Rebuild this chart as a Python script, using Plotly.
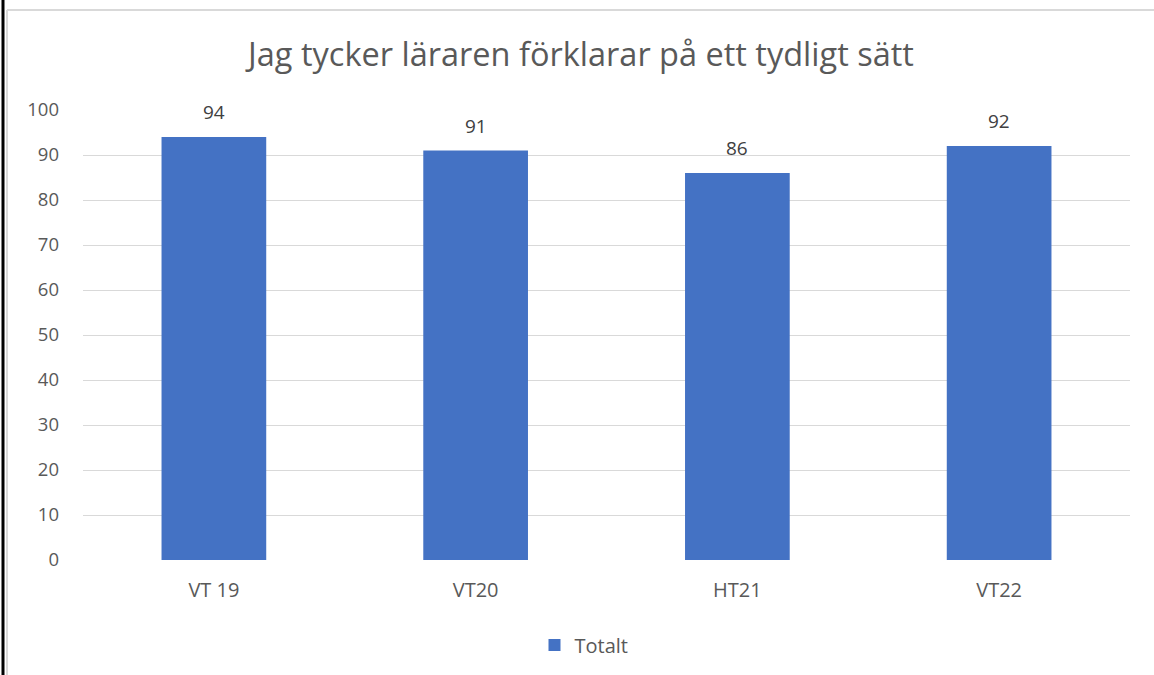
import plotly.graph_objects as go

categories = ["VT 19", "VT20", "HT21", "VT22"]
values = [94, 91, 86, 92]
series_name = "Totalt"
title_text = "Jag tycker läraren förklarar på ett tydligt sätt"
y_ticks = [0, 10, 20, 30, 40, 50, 60, 70, 80, 90, 100]

W, H = 1154, 675
L, R, T, B = 83, 24, 110, 115
pw, ph = W - L - R, H - T - B

def px(x):
    return (x - L) / pw

def py(y):
    return (H - B - y) / ph

font = "Open Sans"

fig = go.Figure()
fig.add_trace(go.Bar(
    x=categories, y=values, name=series_name,
    marker=dict(color="#4472C4", line=dict(width=0)),
    showlegend=True,
))

for c, v in zip(categories, values):
    fig.add_annotation(x=c, y=v, text=str(v), showarrow=False,
                       yanchor="middle", yshift=25,
                       font=dict(family=font, size=19, color="#404040"))

fig.update_layout(
    width=W, height=H,
    margin=dict(l=L, r=R, t=T, b=B, autoexpand=False),
    paper_bgcolor="white", plot_bgcolor="white",
    bargap=0.6,
    title=dict(text=title_text, x=581 / W, xanchor="center",
               y=1 - 55 / H, yanchor="middle",
               font=dict(family=font, size=32.5, color="#595959")),
    xaxis=dict(showgrid=False, showline=False, ticks="",
               tickfont=dict(family=font, size=20, color="#595959")),
    yaxis=dict(range=[0, 100], tickvals=y_ticks, showgrid=True,
               gridcolor="#D9D9D9", gridwidth=1, zeroline=False,
               showline=False, ticks="", ticklen=0,
               tickfont=dict(family=font, size=18.5, color="#595959")),
    legend=dict(orientation="h", x=px(584), xanchor="center",
                y=py(645), yanchor="middle", itemwidth=30,
                font=dict(family=font, size=20, color="#595959")),
    shapes=[
        dict(type="line", xref="paper", yref="paper",
             x0=px(3), x1=px(3), y0=py(0), y1=py(H),
             line=dict(color="black", width=3)),
        dict(type="line", xref="paper", yref="paper",
             x0=px(7), x1=px(W), y0=py(10), y1=py(10),
             line=dict(color="#D9D9D9", width=2)),
        dict(type="line", xref="paper", yref="paper",
             x0=px(7), x1=px(7), y0=py(10), y1=py(H),
             line=dict(color="#D9D9D9", width=2)),
    ],
)
fig.update_xaxes(ticklabelstandoff=16)
fig.update_yaxes(ticklabelstandoff=23)

fig.write_html("out.html", config={"displayModeBar": False},
               post_script="document.body.style.margin='0';")
